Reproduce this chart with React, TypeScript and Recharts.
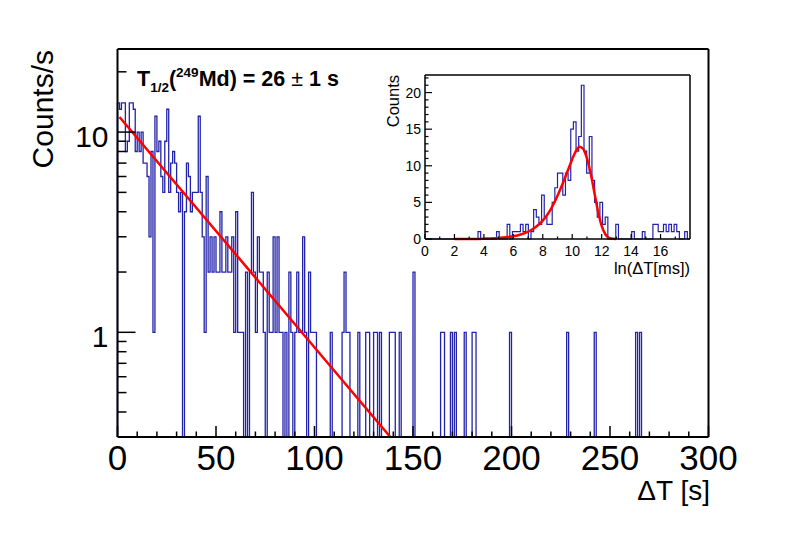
import React from 'react';
import { ComposedChart, Line, XAxis, YAxis, CartesianGrid } from 'recharts';

// Main histogram: counts per 1 s bin, t = 0..299 s
const decayCounts: number[] = [
  14, 13, 14, 14, 8, 9, 14, 14, 13, 8, 10, 8, 10, 7, 7, 6, 3, 8, 1, 12,
  8, 9, 6, 5, 9, 13, 5, 7, 8, 7, 5, 4, 5, 0, 4, 7, 6, 4, 5, 5,
  5, 12, 5, 3, 1, 6, 2, 3, 2, 3, 2, 2, 4, 2, 2, 3, 2, 2, 3, 1,
  4, 1, 1, 1, 0, 2, 0, 2, 5, 2, 1, 3, 2, 2, 1, 0, 2, 1, 1, 3,
  1, 3, 1, 1, 0, 1, 0, 2, 1, 0, 1, 2, 1, 1, 3, 1, 0, 2, 1, 1,
  1, 0, 0, 0, 0, 0, 0, 0, 1, 0, 0, 0, 0, 0, 1, 2, 1, 1, 0, 0,
  0, 0, 1, 0, 0, 0, 1, 1, 0, 0, 1, 1, 0, 1, 0, 0, 0, 0, 1, 1,
  1, 0, 0, 1, 0, 0, 0, 0, 0, 0, 2, 0, 0, 0, 0, 0, 0, 0, 0, 0,
  0, 0, 0, 0, 1, 1, 0, 0, 0, 1, 0, 1, 0, 0, 0, 0, 1, 0, 0, 0,
  1, 1, 0, 0, 0, 0, 0, 0, 0, 0, 0, 0, 0, 0, 0, 0, 0, 0, 0, 1,
  0, 0, 0, 0, 0, 0, 0, 0, 0, 0, 0, 0, 0, 0, 0, 0, 0, 0, 0, 0,
  0, 0, 0, 0, 0, 0, 0, 0, 1, 0, 0, 0, 0, 0, 0, 0, 0, 0, 0, 0,
  0, 0, 1, 0, 0, 0, 0, 0, 0, 0, 0, 0, 0, 0, 0, 0, 0, 0, 0, 0,
  0, 0, 0, 1, 0, 1, 0, 0, 0, 0, 0, 0, 0, 0, 0, 0, 0, 0, 0, 0,
  0, 0, 0, 0, 0, 0, 0, 0, 0, 0, 0, 0, 0, 0, 0, 0, 0, 0, 0, 0,
];
const DECAY_BIN = 1; // s

// Exponential fit (straight line on log axis)
const decayFitT: number[] = [1, 138.5];
const decayFitV: number[] = [11.9, 0.3];

// Inset histogram: counts in ln(dT[ms]) bins of width 0.18, from 0 to 18
const lnCounts: number[] = [
  0, 0, 0, 0, 0, 0, 0, 0, 0, 0, 0, 0, 0, 0, 0, 0, 0, 0, 0, 0,
  1, 0, 0, 0, 0, 0, 0, 1, 0, 0, 0, 2, 0, 1, 1, 1, 2, 1, 2, 0,
  1, 4, 3, 2, 6, 3, 2, 2, 5, 7, 9, 9, 6, 9, 8, 15, 16, 12, 14, 21,
  12, 9, 14, 8, 5, 3, 5, 2, 3, 0, 0, 0, 2, 0, 0, 0, 0, 0, 1, 0,
  0, 0, 1, 0, 0, 0, 2, 2, 1, 1, 2, 1, 2, 1, 2, 1, 0, 0, 1, 0,
];
const LN_BIN = 0.18;

// Inset fit curve
const lnFitX: number[] = [2, 3, 4, 5, 5.5, 6, 6.5, 7, 7.5, 8, 8.5, 9, 9.5, 10, 10.25, 10.5, 10.75, 11, 11.25, 11.5, 11.75, 12, 12.25, 12.5, 12.75, 13];
const lnFitY: number[] = [0, 0.01, 0.05, 0.14, 0.23, 0.37, 0.61, 0.99, 1.6, 2.5, 3.9, 5.9, 8.3, 10.9, 12.0, 12.6, 12.3, 11.0, 9.0, 6.4, 3.8, 1.8, 0.65, 0.15, 0.02, 0];

// Axis ticks
const mainXTicks: number[] = [0, 10, 20, 30, 40, 50, 60, 70, 80, 90, 100, 110, 120, 130, 140, 150, 160, 170, 180, 190, 200, 210, 220, 230, 240, 250, 260, 270, 280, 290, 300];
const mainXLabels: number[] = [0, 50, 100, 150, 200, 250, 300];
const mainYTicks: number[] = [0.4, 0.5, 0.6, 0.7, 0.8, 0.9, 1, 2, 3, 4, 5, 6, 7, 8, 9, 10, 20];
const mainYLabels: number[] = [1, 10];
const insetXTicks: number[] = [0, 1, 2, 3, 4, 5, 6, 7, 8, 9, 10, 11, 12, 13, 14, 15, 16, 17];
const insetXLabels: number[] = [0, 2, 4, 6, 8, 10, 12, 14, 16];
const insetYTicks: number[] = [0, 1, 2, 3, 4, 5, 6, 7, 8, 9, 10, 11, 12, 13, 14, 15, 16, 17, 18, 19, 20, 21, 22];
const insetYLabels: number[] = [0, 5, 10, 15, 20];

const FONT = '"Liberation Sans", Arial, Helvetica, sans-serif';
const HIST_COLOR = '#2222aa';
const FIT_COLOR = '#ff0000';
const LOG_FLOOR = 0.1;

// Build step data
const mainHist = [
  { t: 0, v: LOG_FLOOR },
  ...decayCounts.map((c, i) => ({ t: i * DECAY_BIN, v: c > 0 ? c / DECAY_BIN : LOG_FLOOR })),
  { t: decayCounts.length * DECAY_BIN, v: decayCounts[decayCounts.length - 1] > 0 ? decayCounts[decayCounts.length - 1] : LOG_FLOOR },
  { t: decayCounts.length * DECAY_BIN, v: LOG_FLOOR },
];
const mainFit = decayFitT.map((t, i) => ({ t, v: decayFitV[i] }));

const insetHist = [
  { x: 0, c: 0 },
  ...lnCounts.map((c, k) => ({ x: +(k * LN_BIN).toFixed(3), c })),
  { x: +(lnCounts.length * LN_BIN).toFixed(3), c: lnCounts[lnCounts.length - 1] },
  { x: +(lnCounts.length * LN_BIN).toFixed(3), c: 0 },
];
const insetFit = lnFitX.map((x, i) => ({ x, c: lnFitY[i] }));

const MainXTick = (props: any) => {
  const { x, y, payload } = props;
  const major = mainXLabels.includes(payload.value);
  return (
    <g>
      <line x1={x} y1={y} x2={x} y2={y - (major ? 11 : 5.5)} stroke="#000" strokeWidth={1.5} />
      {major && (
        <text x={x} y={y + 33} textAnchor="middle" fontSize={35} fontFamily={FONT} fill="#000">
          {payload.value}
        </text>
      )}
    </g>
  );
};

const MainYTick = (props: any) => {
  const { x, y, payload } = props;
  const major = mainYLabels.includes(payload.value);
  return (
    <g>
      <line x1={x} y1={y} x2={x + (major ? 18 : 9)} y2={y} stroke="#000" strokeWidth={1.5} />
      {major && (
        <text x={x - 9} y={y + 15} textAnchor="end" fontSize={30} fontFamily={FONT} fill="#000">
          {payload.value}
        </text>
      )}
    </g>
  );
};

const InsetXTick = (props: any) => {
  const { x, y, payload } = props;
  const major = insetXLabels.includes(payload.value);
  return (
    <g>
      <line x1={x} y1={y} x2={x} y2={y - (major ? 5 : 2.5)} stroke="#000" strokeWidth={1.2} />
      {major && (
        <text x={x} y={y + 17} textAnchor="middle" fontSize={14} fontFamily={FONT} fill="#000">
          {payload.value}
        </text>
      )}
    </g>
  );
};

const InsetYTick = (props: any) => {
  const { x, y, payload } = props;
  const major = insetYLabels.includes(payload.value);
  return (
    <g>
      <line x1={x} y1={y} x2={x + (major ? 7 : 3.5)} y2={y} stroke="#000" strokeWidth={1.2} />
      {major && (
        <text x={x - 4} y={y + 5} textAnchor="end" fontSize={14} fontFamily={FONT} fill="#000">
          {payload.value}
        </text>
      )}
    </g>
  );
};

export default function App() {
  return (
    <div style={{ position: 'absolute', left: 0, top: 0, width: 788, height: 534, background: '#fff', fontFamily: FONT }}>
      <div style={{ position: 'absolute', left: 0, top: 0 }}>
        <ComposedChart width={788} height={534} margin={{ top: 48, right: 78.5, bottom: 96, left: 116.5 }}>
          <XAxis
            xAxisId="b"
            type="number"
            dataKey="t"
            domain={[0, 300]}
            ticks={mainXTicks}
            interval={0}
            tickSize={0}
            tickMargin={0}
            tickLine={false}
            height={1}
            axisLine={{ stroke: '#000', strokeWidth: 2 }}
            tick={<MainXTick />}
          />
          <XAxis xAxisId="top" type="number" dataKey="t" orientation="top" domain={[0, 300]} height={1} tick={false} tickLine={false} axisLine={{ stroke: '#000', strokeWidth: 2 }} />
          <YAxis
            yAxisId="l"
            scale="log"
            domain={[0.3, 26]}
            allowDataOverflow
            ticks={mainYTicks}
            interval={0}
            tickSize={0}
            tickMargin={0}
            tickLine={false}
            width={1}
            axisLine={{ stroke: '#000', strokeWidth: 2 }}
            tick={<MainYTick />}
          />
          <YAxis yAxisId="r" orientation="right" scale="log" domain={[0.3, 26]} allowDataOverflow width={1} tick={false} tickLine={false} axisLine={{ stroke: '#000', strokeWidth: 2 }} />
          <Line
            xAxisId="b"
            yAxisId="l"
            data={mainHist}
            dataKey="v"
            type="stepAfter"
            stroke={HIST_COLOR}
            strokeWidth={1.3}
            dot={false}
            activeDot={false}
            isAnimationActive={false}
          />
          <Line
            xAxisId="b"
            yAxisId="l"
            data={mainFit}
            dataKey="v"
            type="linear"
            stroke={FIT_COLOR}
            strokeWidth={2.5}
            dot={false}
            activeDot={false}
            isAnimationActive={false}
          />
        </ComposedChart>
      </div>

      <div style={{ position: 'absolute', left: 380, top: 55 }}>
        <ComposedChart width={330} height={230} margin={{ top: 19, right: 19, bottom: 45, left: 44 }}>
          <CartesianGrid xAxisId="b" yAxisId="l" horizontal={false} vertical={false} fill="#fff" />
          <XAxis
            xAxisId="b"
            type="number"
            dataKey="x"
            domain={[0, 18]}
            ticks={insetXTicks}
            interval={0}
            tickSize={0}
            tickMargin={0}
            tickLine={false}
            height={1}
            axisLine={{ stroke: '#000', strokeWidth: 1.5 }}
            tick={<InsetXTick />}
          />
          <XAxis xAxisId="top" type="number" dataKey="x" orientation="top" domain={[0, 18]} height={1} tick={false} tickLine={false} axisLine={{ stroke: '#000', strokeWidth: 1.5 }} />
          <YAxis
            yAxisId="l"
            type="number"
            domain={[0, 22.4]}
            ticks={insetYTicks}
            interval={0}
            tickSize={0}
            tickMargin={0}
            tickLine={false}
            width={1}
            axisLine={{ stroke: '#000', strokeWidth: 1.5 }}
            tick={<InsetYTick />}
          />
          <YAxis yAxisId="r" orientation="right" type="number" domain={[0, 22.4]} width={1} tick={false} tickLine={false} axisLine={{ stroke: '#000', strokeWidth: 1.5 }} />
          <Line
            xAxisId="b"
            yAxisId="l"
            data={insetHist}
            dataKey="c"
            type="stepAfter"
            stroke={HIST_COLOR}
            strokeWidth={1.2}
            dot={false}
            activeDot={false}
            isAnimationActive={false}
          />
          <Line
            xAxisId="b"
            yAxisId="l"
            data={insetFit}
            dataKey="c"
            type="monotone"
            stroke={FIT_COLOR}
            strokeWidth={2.5}
            dot={false}
            activeDot={false}
            isAnimationActive={false}
          />
        </ComposedChart>
      </div>

      <svg width={788} height={534} style={{ position: 'absolute', left: 0, top: 0, pointerEvents: 'none' }}>
        <text x={137} y={86} fontSize={21.5} fontWeight="bold" fontFamily={FONT} fill="#000">
          T<tspan dy={6} fontSize={13.5}>1/2</tspan>
          <tspan dy={-6}>(</tspan>
          <tspan dy={-9} fontSize={13.5}>249</tspan>
          <tspan dy={9}>Md) = 26 </tspan>
          <tspan fontWeight="normal">±</tspan>
          <tspan> 1 s</tspan>
        </text>
        <text x={53} y={50} transform="rotate(-90 53 50)" textAnchor="end" fontSize={30} fontFamily={FONT} fill="#000">
          Counts/s
        </text>
        <text x={710} y={500} textAnchor="end" fontSize={28} fontFamily={FONT} fill="#000">
          ΔT [s]
        </text>
        <text x={399} y={75} transform="rotate(-90 399 75)" textAnchor="end" fontSize={16.5} fontFamily={FONT} fill="#000">
          Counts
        </text>
        <text x={690} y={274} textAnchor="end" fontSize={16.5} fontFamily={FONT} fill="#000">
          ln(ΔT[ms])
        </text>
      </svg>
    </div>
  );
}
